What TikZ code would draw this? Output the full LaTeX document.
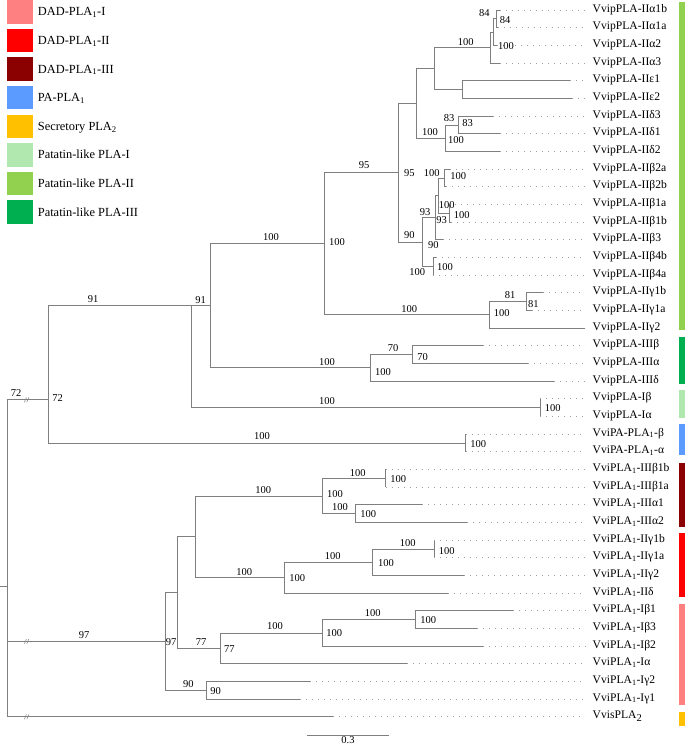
\documentclass[tikz,border=0pt]{standalone}
\usepackage{fontspec}
\setmainfont{Liberation Serif}
\usetikzlibrary{calc}
\definecolor{lin}{HTML}{7F7F7F}
\definecolor{cDADI}{HTML}{FF8080}
\definecolor{cDADII}{HTML}{FF0000}
\definecolor{cDADIII}{HTML}{8B0000}
\definecolor{cPA}{HTML}{5B9BFF}
\definecolor{cSec}{HTML}{FFC000}
\definecolor{cPatI}{HTML}{B0E8B0}
\definecolor{cPatII}{HTML}{92D050}
\definecolor{cPatIII}{HTML}{00B050}
\newcommand\leaf[5]{%
  \coordinate (L#1) at (#4,#2);
  \coordinate (T#1) at (585,#2);
  \draw[br] (#3) |- (L#1);
  \draw[dt] (L#1) -- (T#1);
  \node[lf] (t#1) at (592.5,#2+2) {#5};
}
\newcommand\bsl[4]{\node[bs] (#1) at (#2,#3) {#4};}
\newcommand\brkmark[1]{%
  \draw[br,line width=0.5pt] ($(#1)+(-2.6,2.4)$) -- ($(#1)+(-0.6,-2.4)$);
  \draw[br,line width=0.5pt] ($(#1)+(-0.2,2.4)$) -- ($(#1)+(1.8,-2.4)$);
}
\newcommand\sub[1]{\textsubscript{#1}}
\begin{document}
\begin{tikzpicture}[x=1pt,y=-1pt,
  br/.style={draw=lin,line width=0.75pt},
  dt/.style={draw=lin!75,line width=0.75pt,dash pattern=on 0.8pt off 5.2pt},
  lf/.style={anchor=base west,inner sep=0pt,font=\fontsize{11.6}{12}\selectfont},
  bs/.style={inner sep=0pt,anchor=center,font=\fontsize{10.5}{11}\selectfont},
  lg/.style={anchor=base west,inner sep=0pt,font=\fontsize{12.4}{13}\selectfont},
  sq/.style={inner sep=0pt,minimum width=26pt,minimum height=23.3pt,anchor=north west,draw=none}]
\useasboundingbox (0,0) rectangle (685,745);

% ---------- legend ----------
\node[sq,fill=cDADI]   (s1) at (7,0)     {};
\node[sq,fill=cDADII]  (s2) at (7,28.6)  {};
\node[sq,fill=cDADIII] (s3) at (7,57.2)  {};
\node[sq,fill=cPA]     (s4) at (7,85.8)  {};
\node[sq,fill=cSec]    (s5) at (7,114.4) {};
\node[sq,fill=cPatI]   (s6) at (7,143)   {};
\node[sq,fill=cPatII]  (s7) at (7,171.6) {};
\node[sq,fill=cPatIII] (s8) at (7,200.2) {};
\node[lg] (g1) at (37.7,15.8)  {DAD-PLA\sub{1}-I};
\node[lg] (g2) at (37.7,44.4)  {DAD-PLA\sub{1}-II};
\node[lg] (g3) at (37.7,73)    {DAD-PLA\sub{1}-III};
\node[lg] (g4) at (37.7,101.6) {PA-PLA\sub{1}};
\node[lg] (g5) at (37.7,130.2) {Secretory PLA\sub{2}};
\node[lg] (g6) at (37.7,158.8) {Patatin-like PLA-I};
\node[lg] (g7) at (37.7,187.4) {Patatin-like PLA-II};
\node[lg] (g8) at (37.7,216)   {Patatin-like PLA-III};

% ---------- colour bars ----------
\fill[cPatII]   (679,2)   rectangle (685,330);
\fill[cPatIII]  (679,337) rectangle (685,384);
\fill[cPatI]    (679,390) rectangle (685,418);
\fill[cPA]      (679,424) rectangle (685,455);
\fill[cDADIII]  (679,463) rectangle (685,527);
\fill[cDADII]   (679,533) rectangle (685,597);
\fill[cDADI]    (679,604) rectangle (685,705);
\fill[cSec]     (679,712) rectangle (685,726);

% ---------- internal nodes ----------
\coordinate (R0)    at (0,586);
\coordinate (R)     at (7.3,586);
\coordinate (N72)   at (48.3,399.8);
\coordinate (N91)   at (191.5,305.8);
\coordinate (N210)  at (210.3,305.8);
\coordinate (N324)  at (324.3,243.7);
\coordinate (N398)  at (398.3,172.6);
\coordinate (Nade)  at (416.7,103.3);
\coordinate (Nae)   at (434.3,68.5);
\coordinate (Na)    at (490,47.6);
\coordinate (Na2)   at (493.3,32.1);
\coordinate (N84)   at (496.7,18.8);
\coordinate (Ne)    at (462.7,89.5);
\coordinate (Nd)    at (445,138.1);
\coordinate (N83)   at (458.3,124.9);
\coordinate (N90)   at (422.7,241.9);
\coordinate (Nb123) at (435.7,217.6);
\coordinate (Nb21)  at (438.3,195.5);
\coordinate (Nb2)   at (444.3,177.9);
\coordinate (Nb1)   at (449.3,213.2);
\coordinate (Nb4)   at (433.3,266.2);
\coordinate (Ng)    at (489.3,314.8);
\coordinate (N81)   at (526.7,301.6);
\coordinate (NIII)  at (370,367.8);
\coordinate (N70)   at (412.3,354.6);
\coordinate (NI)    at (540,407.6);
\coordinate (NPA)   at (465.7,442.9);
\coordinate (N97)   at (165,641.4);
\coordinate (N177)  at (177.3,592.6);
\coordinate (N195)  at (195.7,536.8);
\coordinate (Nqa)   at (322.3,496);
\coordinate (Nqb)   at (385.7,478.3);
\coordinate (Nqc)   at (355.7,513.6);
\coordinate (Nqd)   at (284.3,577.6);
\coordinate (Nqg)   at (372.7,562.2);
\coordinate (Nqh)   at (434.3,548.9);
\coordinate (N77)   at (220.3,648.3);
\coordinate (Nqe)   at (322.3,632.9);
\coordinate (Nqf)   at (415.7,619.6);
\coordinate (N90b)  at (206.7,690.3);

% ---------- internal branches ----------
\draw[br] (R0) -- (R);
\draw[br] (R) |- (N72);
\draw[br] (R) |- (N97);
\draw[br] (N72) |- (N91);
\draw[br] (N72) |- (NPA);
\draw[br] (N91) |- (N210);
\draw[br] (N91) |- (NI);
\draw[br] (N210) |- (N324);
\draw[br] (N210) |- (NIII);
\draw[br] (N324) |- (N398);
\draw[br] (N324) |- (Ng);
\draw[br] (N398) |- (Nade);
\draw[br] (N398) |- (N90);
\draw[br] (Nade) |- (Nae);
\draw[br] (Nade) |- (Nd);
\draw[br] (Nae) |- (Na);
\draw[br] (Nae) |- (Ne);
\draw[br] (Na) |- (Na2);
\draw[br] (Na2) |- (N84);
\draw[br] (Nd) |- (N83);
\draw[br] (N90) |- (Nb123);
\draw[br] (N90) |- (Nb4);
\draw[br] (Nb123) |- (Nb21);
\draw[br] (Nb21) |- (Nb2);
\draw[br] (Nb21) |- (Nb1);
\draw[br] (Ng) |- (N81);
\draw[br] (NIII) |- (N70);
\draw[br] (N97) |- (N177);
\draw[br] (N97) |- (N90b);
\draw[br] (N177) |- (N195);
\draw[br] (N177) |- (N77);
\draw[br] (N195) |- (Nqa);
\draw[br] (N195) |- (Nqd);
\draw[br] (Nqa) |- (Nqb);
\draw[br] (Nqa) |- (Nqc);
\draw[br] (Nqd) |- (Nqg);
\draw[br] (Nqg) |- (Nqh);
\draw[br] (N77) |- (Nqe);
\draw[br] (Nqe) |- (Nqf);

% ---------- leaves ----------
\leaf{0}{10}{N84}{500}{VvipPLA-IIα1b}
\leaf{1}{27.67}{N84}{497.5}{VvipPLA-IIα1a}
\leaf{2}{45.34}{Na2}{497}{VvipPLA-IIα2}
\leaf{3}{63.01}{Na}{500}{VvipPLA-IIα3}
\leaf{4}{80.68}{Ne}{570}{VvipPLA-IIε1}
\leaf{5}{98.35}{Ne}{571.7}{VvipPLA-IIε2}
\leaf{6}{116.02}{N83}{492.7}{VvipPLA-IIδ3}
\leaf{7}{133.69}{N83}{500}{VvipPLA-IIδ1}
\leaf{8}{151.36}{Nd}{500}{VvipPLA-IIδ2}
\leaf{9}{169.03}{Nb2}{450}{VvipPLA-IIβ2a}
\leaf{10}{186.7}{Nb2}{446}{VvipPLA-IIβ2b}
\leaf{11}{204.37}{Nb1}{449.3}{VvipPLA-IIβ1a}
\leaf{12}{222.04}{Nb1}{450.5}{VvipPLA-IIβ1b}
\leaf{13}{239.71}{Nb123}{443.3}{VvipPLA-IIβ3}
\leaf{14}{257.38}{Nb4}{436}{VvipPLA-IIβ4b}
\leaf{15}{275.05}{Nb4}{433.3}{VvipPLA-IIβ4a}
\leaf{16}{292.72}{N81}{543.3}{VvipPLA-IIγ1b}
\leaf{17}{310.39}{N81}{531.7}{VvipPLA-IIγ1a}
\leaf{18}{328.06}{Ng}{585}{VvipPLA-IIγ2}
\leaf{19}{345.73}{N70}{483}{VvipPLA-IIIβ}
\leaf{20}{363.4}{N70}{528.3}{VvipPLA-IIIα}
\leaf{21}{381.07}{NIII}{554}{VvipPLA-IIIδ}
\leaf{22}{398.74}{NI}{540}{VvipPLA-Iβ}
\leaf{23}{416.41}{NI}{540}{VvipPLA-Iα}
\leaf{24}{434.08}{NPA}{465.7}{VviPA-PLA\sub{1}-β}
\leaf{25}{451.75}{NPA}{465.7}{VviPA-PLA\sub{1}-α}
\leaf{26}{469.42}{Nqb}{385.7}{VviPLA\sub{1}-IIIβ1b}
\leaf{27}{487.09}{Nqb}{385.7}{VviPLA\sub{1}-IIIβ1a}
\leaf{28}{504.76}{Nqc}{422.3}{VviPLA\sub{1}-IIIα1}
\leaf{29}{522.43}{Nqc}{466.7}{VviPLA\sub{1}-IIIα2}
\leaf{30}{540.1}{Nqh}{434.3}{VviPLA\sub{1}-IIγ1b}
\leaf{31}{557.77}{Nqh}{434.3}{VviPLA\sub{1}-IIγ1a}
\leaf{32}{575.44}{Nqg}{464}{VviPLA\sub{1}-IIγ2}
\leaf{33}{593.11}{Nqd}{447.7}{VviPLA\sub{1}-IIδ}
\leaf{34}{610.78}{Nqf}{512.7}{VviPLA\sub{1}-Iβ1}
\leaf{35}{628.45}{Nqf}{477.3}{VviPLA\sub{1}-Iβ3}
\leaf{36}{646.12}{Nqe}{482.7}{VviPLA\sub{1}-Iβ2}
\leaf{37}{663.79}{N77}{406.7}{VviPLA\sub{1}-Iα}
\leaf{38}{681.46}{N90b}{310}{VviPLA\sub{1}-Iγ2}
\leaf{39}{699.13}{N90b}{300}{VviPLA\sub{1}-Iγ1}
\leaf{40}{716.8}{R}{333}{VvisPLA\raisebox{-2.5pt}{\fontsize{10.5}{10}\selectfont 2}}

% ---------- branch breaks ----------
\coordinate (B1) at (27,399.8);
\coordinate (B2) at (27,641.4);
\coordinate (B3) at (27,716.8);
\brkmark{B1}
\brkmark{B2}
\brkmark{B3}

% ---------- bootstrap values ----------
\bsl{b1}{484.3}{13.3}{84}
\bsl{b2}{505}{20}{84}
\bsl{b3}{465.7}{41.7}{100}
\bsl{b4}{506}{45.7}{100}
\bsl{b5}{449}{118.3}{83}
\bsl{b6}{467.7}{123.3}{83}
\bsl{b7}{430}{132.3}{100}
\bsl{b8}{456}{140}{100}
\bsl{b9}{364}{165}{95}
\bsl{b10}{409.3}{172.7}{95}
\bsl{b11}{431.7}{172.7}{100}
\bsl{b12}{458.3}{176}{100}
\bsl{b13}{446.7}{205}{100}
\bsl{b14}{461.7}{215}{100}
\bsl{b15}{425}{211.7}{93}
\bsl{b16}{441.7}{220}{93}
\bsl{b17}{409.3}{235}{90}
\bsl{b18}{433.3}{245}{90}
\bsl{b19}{445}{267.3}{100}
\bsl{b20}{417.3}{271.7}{100}
\bsl{b21}{510}{295}{81}
\bsl{b22}{533.3}{304}{81}
\bsl{b23}{409.3}{309}{100}
\bsl{b24}{501.7}{313.3}{100}
\bsl{b25}{271}{237}{100}
\bsl{b26}{337}{242}{100}
\bsl{b27}{393}{348}{70}
\bsl{b28}{422.7}{356.7}{70}
\bsl{b29}{327}{362}{100}
\bsl{b30}{383}{372}{100}
\bsl{b31}{93}{299.5}{91}
\bsl{b32}{200.5}{300}{91}
\bsl{b33}{327}{401}{100}
\bsl{b34}{552.7}{408.3}{100}
\bsl{b35}{262}{436}{100}
\bsl{b36}{478.3}{444}{100}
\bsl{b37}{16}{393.3}{72}
\bsl{b38}{57.7}{398.3}{72}
\bsl{b39}{84}{635}{97}
\bsl{b40}{171}{642.3}{97}
\bsl{b41}{263.3}{490}{100}
\bsl{b42}{357.7}{472.7}{100}
\bsl{b43}{398.3}{479.3}{100}
\bsl{b44}{335}{494}{100}
\bsl{b45}{340}{507.3}{100}
\bsl{b46}{368.3}{514}{100}
\bsl{b47}{407.7}{542.7}{100}
\bsl{b48}{446.7}{550.7}{100}
\bsl{b49}{332.7}{556}{100}
\bsl{b50}{386}{562.7}{100}
\bsl{b51}{244.3}{571.7}{100}
\bsl{b52}{297.3}{578.3}{100}
\bsl{b53}{372.7}{613.3}{100}
\bsl{b54}{428.3}{620}{100}
\bsl{b55}{275}{626}{100}
\bsl{b56}{334.3}{633.3}{100}
\bsl{b57}{201}{642.3}{77}
\bsl{b58}{229.3}{649.3}{77}
\bsl{b59}{188.3}{684.3}{90}
\bsl{b60}{215.7}{690.7}{90}

% ---------- scale bar ----------
\coordinate (sb1) at (307,735);
\coordinate (sb2) at (389,735);
\draw[br] (sb1) -- (sb2);
\node[bs] (sbl) at (348,740) {0.3};
\end{tikzpicture}
\end{document}
